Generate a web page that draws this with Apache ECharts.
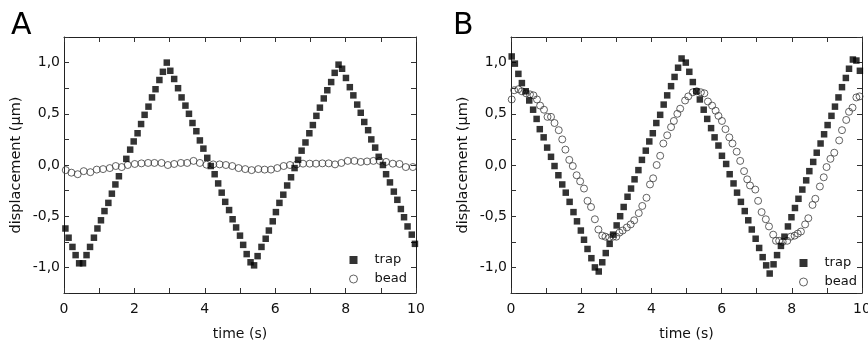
<!DOCTYPE html>
<html>
<head>
<meta charset="utf-8">
<script src="https://cdn.jsdelivr.net/npm/echarts@6/dist/echarts.min.js"></script>
<style>html,body{margin:0;padding:0;background:#fff}#c{width:868px;height:343px}</style>
</head>
<body>
<div id="c"></div>
<script>
// ---- data (time in s, displacement in µm) ----
const panelLabels = ['A', 'B'];
const seriesNames = ['trap', 'bead'];
const xTicks = [0, 2, 4, 6, 8, 10];
const yTicks = [-1.0, -0.5, 0.0, 0.5, 1.0];

const trapA = [
[0.04,-0.62],[0.13,-0.71],[0.24,-0.80],[0.33,-0.88],[0.43,-0.96],[0.54,-0.96],[0.64,-0.88],[0.74,-0.80],[0.85,-0.71],[0.95,-0.62],
[1.05,-0.54],[1.15,-0.45],[1.26,-0.37],[1.36,-0.28],[1.46,-0.19],[1.56,-0.11],[1.77,0.06],[1.88,0.15],[1.98,0.23],[2.09,0.31],
[2.19,0.40],[2.29,0.49],[2.40,0.57],[2.50,0.66],[2.60,0.74],[2.71,0.83],[2.81,0.91],[2.92,1.00],[3.02,0.92],[3.13,0.84],
[3.24,0.75],[3.34,0.66],[3.45,0.58],[3.55,0.50],[3.65,0.41],[3.76,0.33],[3.86,0.24],[3.96,0.16],[4.07,0.07],[4.17,-0.01],
[4.28,-0.09],[4.38,-0.18],[4.48,-0.27],[4.58,-0.36],[4.69,-0.44],[4.79,-0.53],[4.89,-0.61],[5.00,-0.69],[5.09,-0.78],[5.19,-0.87],
[5.30,-0.95],[5.40,-0.98],[5.50,-0.89],[5.61,-0.80],[5.73,-0.72],[5.82,-0.64],[5.93,-0.55],[6.02,-0.46],[6.12,-0.37],[6.23,-0.29],
[6.34,-0.20],[6.45,-0.12],[6.55,-0.03],[6.65,0.05],[6.75,0.14],[6.86,0.22],[6.97,0.31],[7.07,0.39],[7.17,0.48],[7.27,0.56],
[7.38,0.65],[7.48,0.73],[7.59,0.81],[7.69,0.90],[7.80,0.98],[7.90,0.94],[8.01,0.85],[8.12,0.76],[8.22,0.68],[8.33,0.59],
[8.43,0.51],[8.53,0.42],[8.64,0.34],[8.73,0.25],[8.84,0.17],[8.94,0.08],[9.06,0.00],[9.15,-0.09],[9.26,-0.17],[9.37,-0.26],
[9.47,-0.34],[9.57,-0.43],[9.66,-0.51],[9.76,-0.60],[9.88,-0.68],[9.97,-0.77]
];

const beadA = [
[0.05,-0.05],[0.21,-0.075],[0.39,-0.09],[0.56,-0.06],[0.75,-0.07],[0.93,-0.045],[1.11,-0.04],[1.30,-0.03],[1.47,-0.01],[1.64,-0.02],
[1.81,0.00],[2.01,0.01],[2.20,0.016],[2.39,0.02],[2.57,0.02],[2.77,0.02],[2.95,0.00],[3.13,0.01],[3.32,0.02],[3.50,0.02],
[3.68,0.04],[3.86,0.02],[4.05,0.003],[4.24,0.006],[4.42,0.006],[4.60,0.00],[4.78,-0.01],[4.96,-0.03],[5.15,-0.04],[5.33,-0.05],
[5.52,-0.04],[5.70,-0.045],[5.88,-0.045],[6.06,-0.03],[6.24,-0.01],[6.42,0.00],[6.61,0.006],[6.79,0.013],[6.98,0.013],[7.16,0.013],
[7.34,0.016],[7.52,0.016],[7.70,0.006],[7.88,0.02],[8.06,0.04],[8.25,0.04],[8.43,0.03],[8.61,0.035],[8.79,0.04],[8.97,0.04],
[9.15,0.03],[9.34,0.013],[9.53,0.01],[9.71,-0.02],[9.91,-0.02]
];

const trapB = [
[0.02,1.06],[0.11,0.99],[0.21,0.89],[0.31,0.80],[0.42,0.72],[0.52,0.63],[0.63,0.54],[0.73,0.45],[0.82,0.35],[0.93,0.27],
[1.03,0.17],[1.14,0.08],[1.24,-0.01],[1.35,-0.10],[1.46,-0.19],[1.56,-0.27],[1.67,-0.36],[1.78,-0.46],[1.88,-0.55],[1.99,-0.64],
[2.08,-0.73],[2.18,-0.82],[2.29,-0.91],[2.39,-1.00],[2.50,-1.04],[2.60,-0.95],[2.70,-0.86],[2.81,-0.77],[2.91,-0.68],[3.01,-0.59],
[3.11,-0.50],[3.21,-0.41],[3.32,-0.31],[3.42,-0.23],[3.52,-0.14],[3.63,-0.05],[3.73,0.05],[3.84,0.14],[3.94,0.23],[4.04,0.31],
[4.14,0.41],[4.25,0.49],[4.35,0.59],[4.45,0.68],[4.56,0.77],[4.66,0.86],[4.76,0.95],[4.86,1.04],[4.98,1.00],[5.08,0.91],
[5.18,0.81],[5.28,0.72],[5.38,0.64],[5.49,0.54],[5.59,0.45],[5.70,0.36],[5.80,0.27],[5.91,0.19],[6.01,0.09],[6.13,0.01],
[6.23,-0.09],[6.34,-0.18],[6.44,-0.27],[6.55,-0.36],[6.66,-0.45],[6.76,-0.54],[6.86,-0.63],[6.97,-0.72],[7.07,-0.81],[7.17,-0.90],
[7.27,-0.98],[7.37,-1.06],[7.48,-0.97],[7.58,-0.88],[7.69,-0.79],[7.79,-0.70],[7.89,-0.60],[7.99,-0.51],[8.09,-0.42],[8.19,-0.33],
[8.30,-0.24],[8.41,-0.15],[8.50,-0.06],[8.61,0.03],[8.71,0.12],[8.82,0.21],[8.92,0.30],[9.02,0.39],[9.13,0.48],[9.23,0.57],
[9.33,0.66],[9.43,0.76],[9.54,0.85],[9.63,0.94],[9.74,1.03],[9.84,1.02],[9.94,0.92]
];

const beadB = [
[0.02,0.64],[0.09,0.73],[0.21,0.74],[0.31,0.72],[0.43,0.70],[0.54,0.69],[0.64,0.68],[0.74,0.64],[0.83,0.58],[0.94,0.54],
[1.04,0.47],[1.14,0.47],[1.24,0.41],[1.36,0.34],[1.46,0.25],[1.55,0.15],[1.66,0.05],[1.76,-0.01],[1.87,-0.10],[1.97,-0.16],
[2.08,-0.23],[2.18,-0.35],[2.28,-0.41],[2.39,-0.53],[2.49,-0.63],[2.60,-0.69],[2.69,-0.70],[2.80,-0.71],[2.91,-0.70],[3.00,-0.70],
[3.09,-0.66],[3.18,-0.64],[3.30,-0.61],[3.41,-0.58],[3.51,-0.54],[3.64,-0.47],[3.74,-0.40],[3.86,-0.32],[3.96,-0.19],[4.05,-0.13],
[4.15,0.00],[4.25,0.09],[4.34,0.21],[4.45,0.29],[4.56,0.37],[4.64,0.43],[4.74,0.50],[4.82,0.55],[4.96,0.63],[5.05,0.67],
[5.18,0.71],[5.29,0.72],[5.41,0.71],[5.51,0.70],[5.61,0.62],[5.73,0.58],[5.83,0.53],[5.91,0.48],[6.01,0.43],[6.11,0.35],
[6.22,0.27],[6.31,0.21],[6.43,0.13],[6.53,0.04],[6.64,-0.06],[6.73,-0.14],[6.81,-0.20],[6.96,-0.24],[7.04,-0.35],[7.14,-0.46],
[7.26,-0.53],[7.35,-0.60],[7.47,-0.68],[7.55,-0.74],[7.64,-0.74],[7.74,-0.75],[7.87,-0.74],[7.97,-0.70],[8.08,-0.69],[8.17,-0.67],
[8.26,-0.65],[8.38,-0.58],[8.47,-0.52],[8.59,-0.39],[8.67,-0.33],[8.80,-0.21],[8.91,-0.12],[8.99,-0.02],[9.10,0.06],[9.21,0.12],
[9.35,0.24],[9.43,0.34],[9.55,0.44],[9.63,0.52],[9.73,0.56],[9.84,0.66],[9.93,0.67]
];

// ---- styling / layout ----
const FONT = '"DejaVu Sans", Arial, sans-serif';
const TXT = '#111';
const AX = '#222';
const grids = [
  {left: 64, top: 37, width: 352, height: 256},
  {left: 511, top: 37, width: 351, height: 256}
];

function fmtY(v) {
  if (yTicks.some(t => Math.abs(t - v) < 1e-6)) return v.toFixed(1).replace('.', ',');
  return '';
}
function fmtX(v) {
  return xTicks.indexOf(Math.round(v * 1000) / 1000) >= 0 ? String(v) : '';
}

const xAxes = [], yAxes = [];
grids.forEach((g, i) => {
  ['bottom', 'top'].forEach(pos => {
    xAxes.push({
      gridIndex: i, type: 'value', min: 0, max: 10, interval: 1, position: pos,
      axisLine: {show: true, onZero: false, lineStyle: {color: AX, width: 1}},
      axisTick: {show: true, inside: true, length: 5, lineStyle: {color: '#333', width: 1}},
      axisLabel: {show: pos === 'bottom', formatter: fmtX, fontSize: 14, margin: 9, color: TXT, fontFamily: FONT},
      splitLine: {show: false},
      name: pos === 'bottom' ? 'time (s)' : '', nameLocation: 'middle', nameGap: 34,
      nameTextStyle: {fontSize: 14, color: TXT, fontFamily: FONT}
    });
  });
  ['left', 'right'].forEach(pos => {
    yAxes.push({
      gridIndex: i, type: 'value', min: -1.25, max: 1.25, interval: 0.25, position: pos,
      axisLine: {show: true, onZero: false, lineStyle: {color: AX, width: 1}},
      axisTick: {show: true, inside: true, length: 5, lineStyle: {color: '#333', width: 1}},
      axisLabel: {show: pos === 'left', formatter: fmtY, fontSize: 14, margin: 4, color: TXT, fontFamily: FONT},
      splitLine: {show: false},
      name: pos === 'left' ? 'displacement (µm)' : '', nameLocation: 'middle', nameGap: 40,
      nameTextStyle: {fontSize: 14.5, color: TXT, fontFamily: FONT}
    });
  });
});

const beadStyle = {color: 'rgba(255,255,255,0)', borderColor: '#3c3c3c', borderWidth: 1};
const trapStyle = {color: '#000'};
const panelData = [[trapA, beadA], [trapB, beadB]];
const series = [];
panelData.forEach((pd, i) => {
  series.push({
    name: seriesNames[1], type: 'scatter', xAxisIndex: i * 2, yAxisIndex: i * 2,
    data: pd[1], symbol: 'circle', symbolSize: 7, itemStyle: beadStyle, z: 2, silent: true
  });
  series.push({
    name: seriesNames[0], type: 'scatter', xAxisIndex: i * 2, yAxisIndex: i * 2,
    data: pd[0], symbol: 'rect', symbolSize: 6.5, itemStyle: trapStyle, z: 3, silent: true
  });
});

const legendPos = [{left: 349, top: 252}, {left: 799, top: 255}];
const legends = legendPos.map(p => ({
  left: p.left, top: p.top, orient: 'vertical', itemWidth: 8, itemHeight: 8, itemGap: 3,
  selectedMode: false, padding: 0,
  textStyle: {fontSize: 13, color: TXT, fontFamily: FONT, lineHeight: 16, padding: [0, 0, 0, 12]},
  data: [
    {name: seriesNames[0], icon: 'rect', itemStyle: trapStyle},
    {name: seriesNames[1], icon: 'circle', itemStyle: beadStyle}
  ]
}));

const chart = echarts.init(document.getElementById('c'), null, {renderer: 'canvas'});
chart.setOption({
  animation: false,
  backgroundColor: '#fff',
  grid: grids.map(g => Object.assign({containLabel: false, outerBoundsMode: 'none'}, g)),
  xAxis: xAxes,
  yAxis: yAxes,
  legend: legends,
  series: series,
  graphic: [
    {type: 'text', left: 11, top: 11, style: {text: panelLabels[0], font: '30px ' + FONT, fill: '#000'}},
    {type: 'text', left: 453, top: 11, style: {text: panelLabels[1], font: '30px ' + FONT, fill: '#000'}}
  ]
});
</script>
</body>
</html>
